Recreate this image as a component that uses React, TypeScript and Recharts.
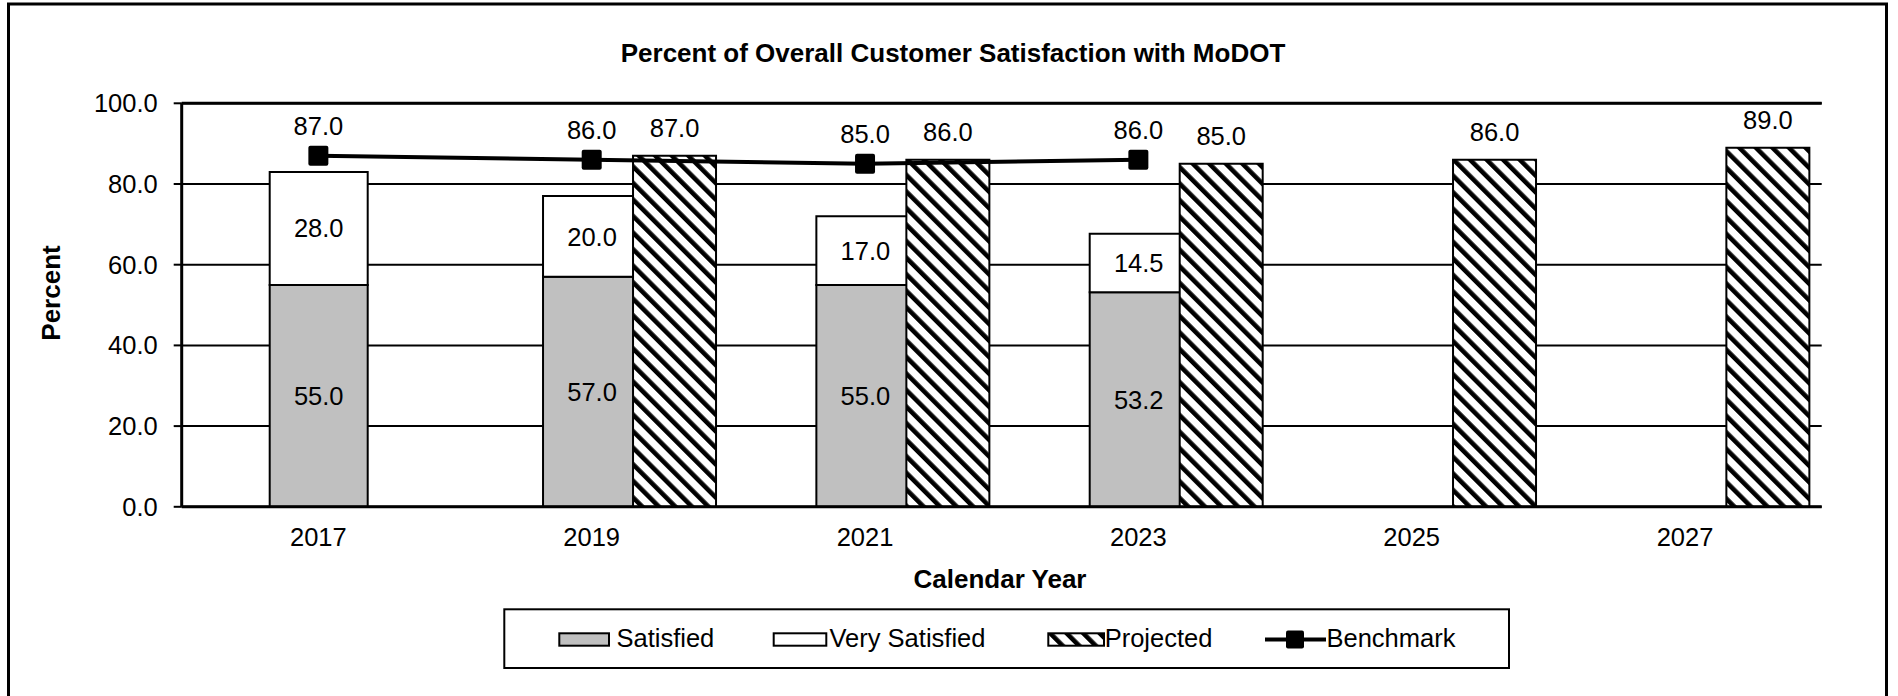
import React from 'react';
import {
  ComposedChart,
  Bar,
  Line,
  XAxis,
  YAxis,
  CartesianGrid,
  LabelList,
  ReferenceLine,
} from 'recharts';

// ---- data ----
const years = ['2017', '2019', '2021', '2023', '2025', '2027'];
const satisfied = [55.0, 57.0, 55.0, 53.2, null, null];
const verySatisfied = [28.0, 20.0, 17.0, 14.5, null, null];
const projected = [null, 87.0, 86.0, 85.0, 86.0, 89.0];
const benchmark = [87.0, 86.0, 85.0, 86.0, null, null];
const yTicks = [0, 20, 40, 60, 80, 100];
const boundaryTicks = [0, 1, 2, 3, 4, 5, 6];

const data = years.map((year, i) => ({
  year,
  satisfied: satisfied[i],
  verySatisfied: verySatisfied[i],
  projected: projected[i],
  benchmark: benchmark[i],
}));

const FONT = '"Liberation Sans", Arial, Helvetica, sans-serif';
const fmt = (v: any) => (v == null || v === '' ? '' : Number(v).toFixed(1));

const SquareDot = (props: any) => {
  const { cx, cy, value, index } = props;
  if (cx == null || cy == null || value == null) return <g key={`d${index}`} />;
  return <rect key={`d${index}`} x={cx - 10} y={cy - 10} width={20} height={20} rx={2} fill="#000" />;
};

export default function App() {
  return (
    <div
      style={{
        position: 'absolute',
        left: 0,
        top: 0,
        width: 1898,
        height: 696,
        background: '#fff',
        fontFamily: FONT,
        overflow: 'hidden',
      }}
    >
      <svg width={0} height={0} style={{ position: 'absolute' }}>
        <defs>
          <pattern
            id="hatch"
            patternUnits="userSpaceOnUse"
            width={11.7}
            height={11.7}
            patternTransform="rotate(-45)"
          >
            <rect x={0} y={0} width={11.7} height={11.7} fill="#fff" />
            <rect x={0} y={0} width={4.6} height={11.7} fill="#000" />
          </pattern>
        </defs>
      </svg>

      <ComposedChart
        width={1898}
        height={696}
        data={data}
        margin={{ top: 103.3, right: 76.3, bottom: 149.2, left: 101.7 }}
        barGap={0}
        style={{ fontFamily: FONT }}
      >
        <CartesianGrid vertical={false} stroke="#000" strokeWidth={2} />
        <XAxis
          xAxisId="ticks"
          type="number"
          domain={[0, 6]}
          ticks={boundaryTicks}
          interval={0}
          allowDataOverflow
          tick={false}
          tickSize={7}
          tickLine={{ stroke: '#000', strokeWidth: 2 }}
          axisLine={false}
          height={0}
        />
        <XAxis
          dataKey="year"
          tickLine={false}
          tickSize={0}
          tickMargin={21}
          axisLine={{ stroke: '#000', strokeWidth: 3 }}
          tick={{ fontSize: 25.5, fill: '#000', fontFamily: FONT }}
          height={40}
          interval={0}
        />
        <XAxis xAxisId="proj" dataKey="year" hide />
        <YAxis
          domain={[0, 100]}
          ticks={yTicks}
          interval={0}
          tickFormatter={(v: number) => v.toFixed(1)}
          tickSize={8}
          tickMargin={16}
          tickLine={{ stroke: '#000', strokeWidth: 2 }}
          axisLine={{ stroke: '#000', strokeWidth: 3 }}
          tick={{ fontSize: 25.5, fill: '#000', fontFamily: FONT }}
          width={80}
        />
        <YAxis
          yAxisId="r"
          orientation="right"
          domain={[0, 100]}
          tick={false}
          tickLine={false}
          axisLine={{ stroke: '#000', strokeWidth: 2 }}
          width={0}
        />
        <ReferenceLine y={100} stroke="#000" strokeWidth={3} />

        <Bar
          dataKey="satisfied"
          stackId="s"
          barSize={98}
          fill="#c0c0c0"
          stroke="#000"
          strokeWidth={2}
          isAnimationActive={false}
        >
          <LabelList
            dataKey="satisfied"
            position="center"
            formatter={fmt}
            fill="#000"
            fontSize={25.5}
            fontFamily={FONT}
          />
        </Bar>
        <Bar
          dataKey="verySatisfied"
          stackId="s"
          barSize={98}
          fill="#fff"
          stroke="#000"
          strokeWidth={2}
          isAnimationActive={false}
        >
          <LabelList
            dataKey="verySatisfied"
            position="center"
            formatter={fmt}
            fill="#000"
            fontSize={25.5}
            fontFamily={FONT}
          />
        </Bar>

        <Bar xAxisId="proj" dataKey="padA" barSize={83} fill="none" legendType="none" isAnimationActive={false} />
        <Bar xAxisId="proj" dataKey="padB" barSize={83} fill="none" legendType="none" isAnimationActive={false} />
        <Bar
          xAxisId="proj"
          dataKey="projected"
          barSize={83}
          fill="url(#hatch)"
          stroke="#000"
          strokeWidth={2}
          isAnimationActive={false}
        >
          <LabelList
            dataKey="projected"
            position="top"
            offset={19}
            formatter={fmt}
            fill="#000"
            fontSize={25.5}
            fontFamily={FONT}
          />
        </Bar>

        <Line
          dataKey="benchmark"
          type="linear"
          stroke="#000"
          strokeWidth={4}
          dot={SquareDot}
          activeDot={false}
          isAnimationActive={false}
        >
          <LabelList
            dataKey="benchmark"
            position="top"
            offset={21}
            formatter={fmt}
            fill="#000"
            fontSize={25.5}
            fontFamily={FONT}
          />
        </Line>
      </ComposedChart>

      <svg
        width={1898}
        height={696}
        style={{ position: 'absolute', left: 0, top: 0, pointerEvents: 'none' }}
        fontFamily={FONT}
      >
        <rect x={8.5} y={4} width={1878} height={800} fill="none" stroke="#000" strokeWidth={3} />
        <text x={953} y={61.7} textAnchor="middle" fontSize={26} fontWeight="bold" fill="#000">
          Percent of Overall Customer Satisfaction with MoDOT
        </text>
        <text
          transform="translate(60,293) rotate(-90)"
          textAnchor="middle"
          fontSize={26}
          fontWeight="bold"
          fill="#000"
        >
          Percent
        </text>
        <text x={1000} y={587.5} textAnchor="middle" fontSize={26} fontWeight="bold" fill="#000">
          Calendar Year
        </text>

        {/* legend */}
        <rect x={504.3} y={609.3} width={1004.7} height={58.7} fill="#fff" stroke="#000" strokeWidth={2} />
        <rect x={559.3} y={633.3} width={49.7} height={12.4} fill="#c0c0c0" stroke="#000" strokeWidth={2} />
        <text x={616.5} y={646.6} fontSize={25.5} fill="#000">Satisfied</text>
        <rect x={773.7} y={633.3} width={52.6} height={12.4} fill="#fff" stroke="#000" strokeWidth={2} />
        <text x={829.5} y={646.6} fontSize={25.5} fill="#000">Very Satisfied</text>
        <rect x={1048.3} y={633.3} width={55.7} height={12.4} fill="url(#hatch)" stroke="#000" strokeWidth={2} />
        <text x={1104.7} y={646.6} fontSize={25.5} fill="#000">Projected</text>
        <line x1={1265} y1={639.5} x2={1326} y2={639.5} stroke="#000" strokeWidth={4} />
        <rect x={1286} y={630.5} width={18} height={18} rx={2} fill="#000" />
        <text x={1326.5} y={646.6} fontSize={25.5} fill="#000">Benchmark</text>
      </svg>
    </div>
  );
}
